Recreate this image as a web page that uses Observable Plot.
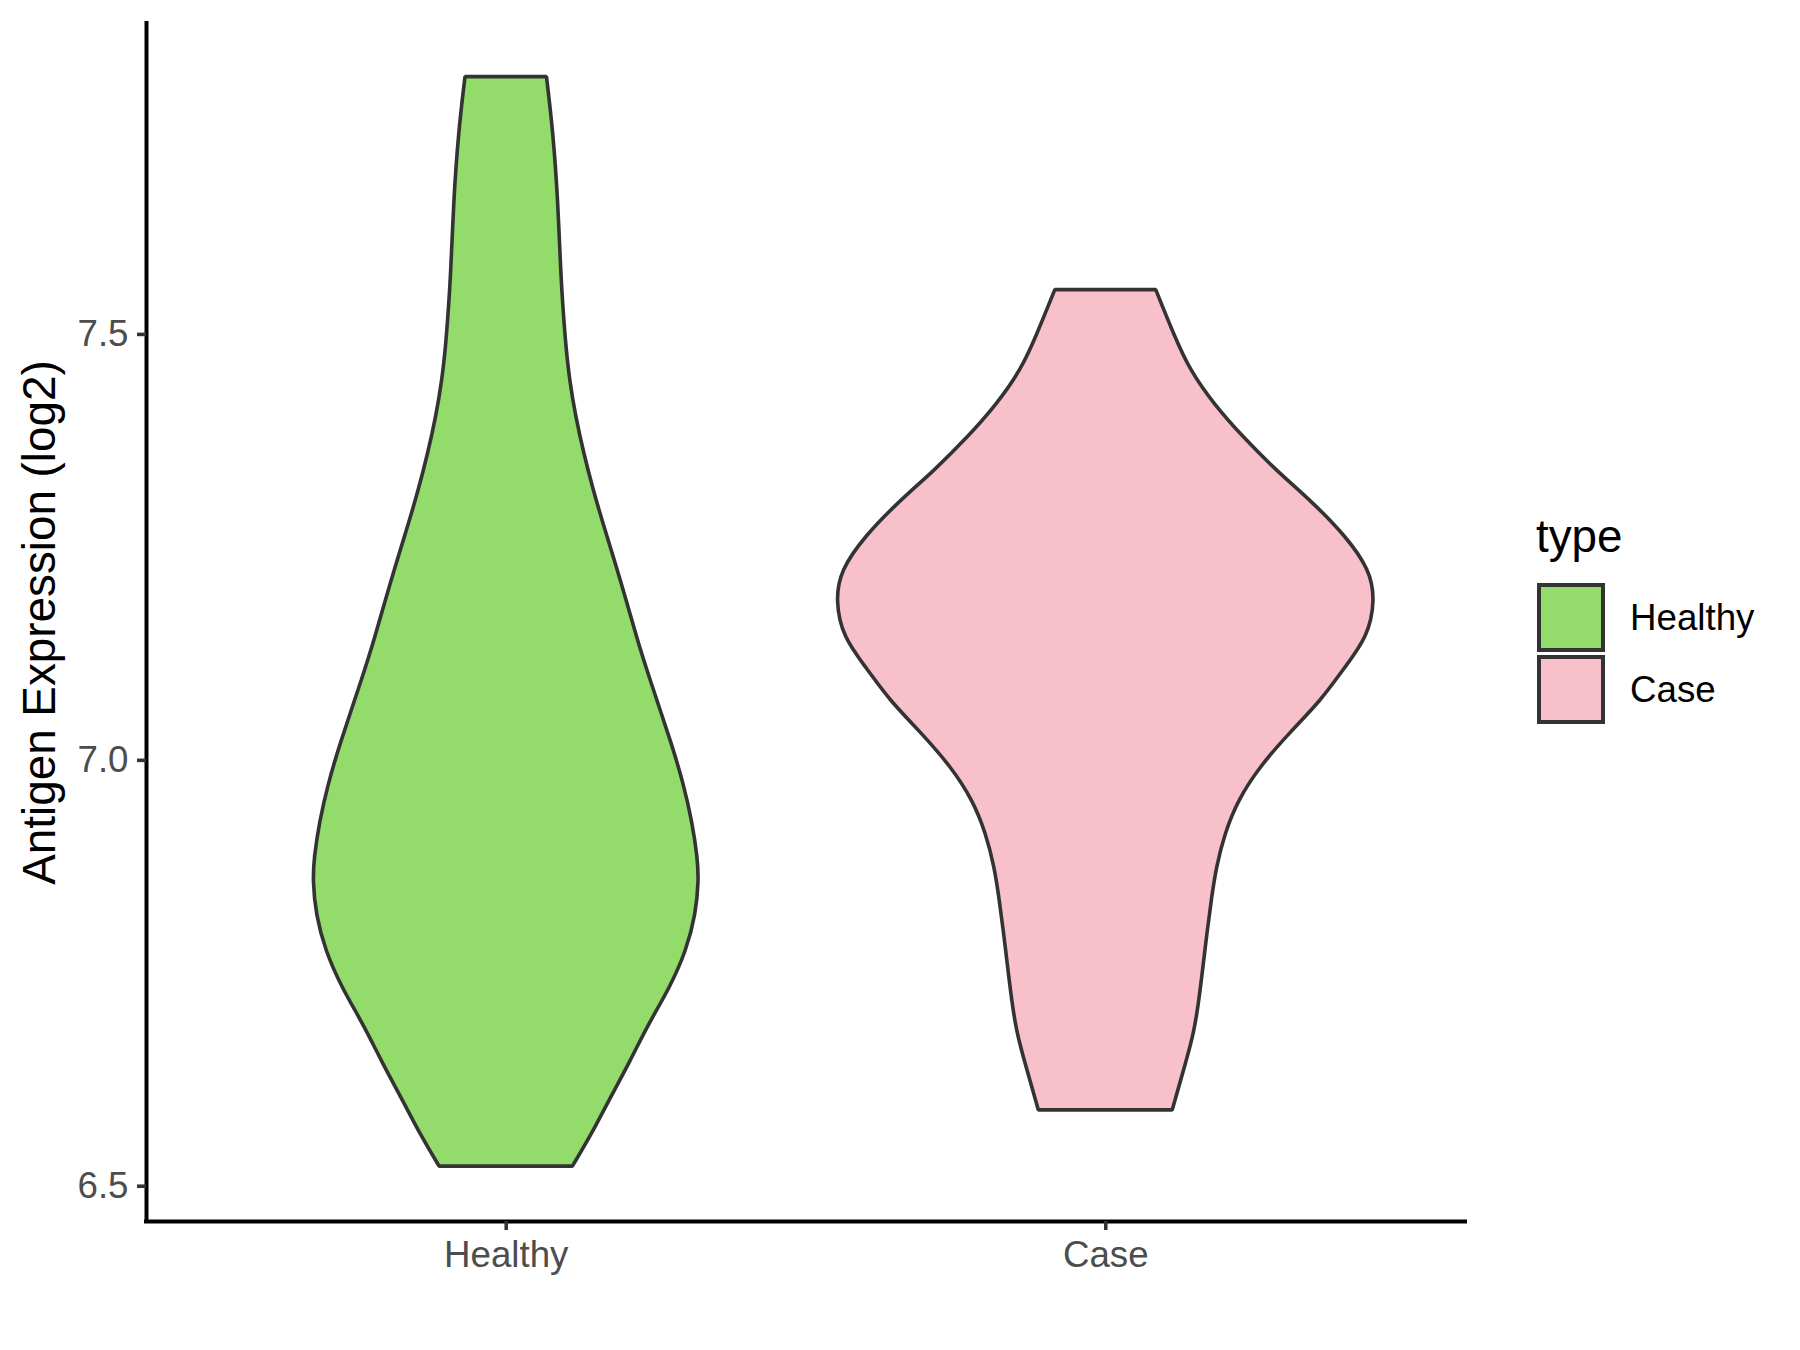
<!DOCTYPE html>
<html>
<head>
<meta charset="utf-8">
<script src="https://cdn.jsdelivr.net/npm/d3@7"></script>
<script src="https://cdn.jsdelivr.net/npm/@observablehq/plot@0.6"></script>
<style>
  html, body { margin: 0; padding: 0; background: #ffffff; }
  #wrap { position: relative; width: 1800px; height: 1350px; font-family: "Liberation Sans", Arial, sans-serif; }
  #chart { position: absolute; left: 0; top: 0; }
  .legend-title { position: absolute; font-size: 45.8px; line-height: 45.8px; color: #000; }
  .key { position: absolute; box-sizing: border-box; border: 4px solid #333333; }
  .key-label { position: absolute; font-size: 36.7px; color: #000; display: flex; align-items: center; }
</style>
</head>
<body>
<div id="wrap">
  <div id="chart"></div>
</div>
<script>
// ---- data ----
const categories = ["Healthy", "Case"];
const colors = ["#93DC6B", "#F7C0CB"];
const yTicks = [6.5, 7.0, 7.5];
const yTitle = "Antigen Expression (log2)";
const legendTitle = "type";

// violin outlines: value (log2) and relative density half-width (max = 1)
const healthyValues = [7.802, 7.738, 7.654, 7.571, 7.486, 7.445, 7.403, 7.360, 7.318, 7.277, 7.235, 7.188, 7.144, 7.101, 7.014, 6.971, 6.927, 6.884, 6.858, 6.819, 6.776, 6.732, 6.689, 6.645, 6.602, 6.559, 6.523];
const healthyDensity = [0.151, 0.175, 0.194, 0.203, 0.222, 0.237, 0.259, 0.289, 0.323, 0.361, 0.402, 0.446, 0.485, 0.527, 0.620, 0.659, 0.691, 0.711, 0.715, 0.704, 0.669, 0.607, 0.527, 0.459, 0.385, 0.315, 0.247];

const caseValues = [7.552, 7.497, 7.458, 7.419, 7.379, 7.340, 7.302, 7.262, 7.223, 7.188, 7.144, 7.106, 7.070, 7.032, 6.992, 6.953, 6.914, 6.874, 6.836, 6.797, 6.757, 6.718, 6.680, 6.640, 6.589];
const caseDensity = [0.187, 0.257, 0.313, 0.399, 0.510, 0.633, 0.770, 0.893, 0.980, 1.000, 0.973, 0.881, 0.800, 0.683, 0.572, 0.492, 0.443, 0.411, 0.393, 0.377, 0.362, 0.347, 0.329, 0.294, 0.248];

const violinHalfWidth = 0.45; // ggplot default width 0.9
const xDomain = [0.4, 2.6];
const yDomain = [6.4586, 7.865];

function violinRows(values, density, i) {
  return values.map((v, k) => ({cat: categories[i], pos: i + 1, v, w: density[k]}));
}
const violins = [
  violinRows(healthyValues, healthyDensity, 0),
  violinRows(caseValues, caseDensity, 1)
];

const plot = Plot.plot({
  width: 1800,
  height: 1350,
  marginLeft: 146,
  marginRight: 335,
  marginTop: 23,
  marginBottom: 129,
  x: {domain: xDomain, axis: null},
  y: {domain: yDomain, axis: null},
  style: {fontFamily: '"Liberation Sans", Arial, sans-serif', background: "white", overflow: "visible"},
  marks: [
    ...violins.map((rows, i) => Plot.areaX(rows, {
      y: "v",
      x1: d => d.pos - d.w * violinHalfWidth,
      x2: d => d.pos + d.w * violinHalfWidth,
      fill: colors[i],
      stroke: "#333333",
      strokeWidth: 3.6,
      strokeLinejoin: "miter",
      curve: "basis"
    })),
    Plot.ruleX([xDomain[0]], {stroke: "#000", strokeWidth: 4, strokeLinecap: "square"}),
    Plot.ruleY([yDomain[0]], {stroke: "#000", strokeWidth: 4, strokeLinecap: "square"}),
    Plot.axisY(yTicks, {
      tickSize: 9, tickPadding: 9, fontSize: 36.7,
      stroke: "#333333", strokeWidth: 3.6, fill: "#4D4D4D",
      tickFormat: d3.format(".1f"), label: null
    }),
    Plot.axisX([1, 2], {
      tickSize: 9, tickPadding: 10, fontSize: 36.7,
      stroke: "#333333", strokeWidth: 3.6, fill: "#4D4D4D",
      tickFormat: d => categories[d - 1], label: null
    }),
    Plot.text([yTitle], {
      frameAnchor: "left", rotate: -90, dx: -106, fontSize: 45.8, fill: "#000",
      textAnchor: "middle", text: d => d
    })
  ]
});
document.getElementById("chart").appendChild(plot);

// legend
const wrap = document.getElementById("wrap");
const t = document.createElement("div");
t.className = "legend-title";
t.style.left = "1536px";
t.style.top = "514px";
t.textContent = legendTitle;
wrap.appendChild(t);
categories.forEach((c, i) => {
  const k = document.createElement("div");
  k.className = "key";
  k.style.left = "1537px";
  k.style.top = (583 + i * 72) + "px";
  k.style.width = "68px";
  k.style.height = "69px";
  k.style.background = colors[i];
  wrap.appendChild(k);
  const l = document.createElement("div");
  l.className = "key-label";
  l.style.left = "1630px";
  l.style.top = (583 + i * 72) + "px";
  l.style.height = "69px";
  l.textContent = c;
  wrap.appendChild(l);
});
</script>
</body>
</html>
